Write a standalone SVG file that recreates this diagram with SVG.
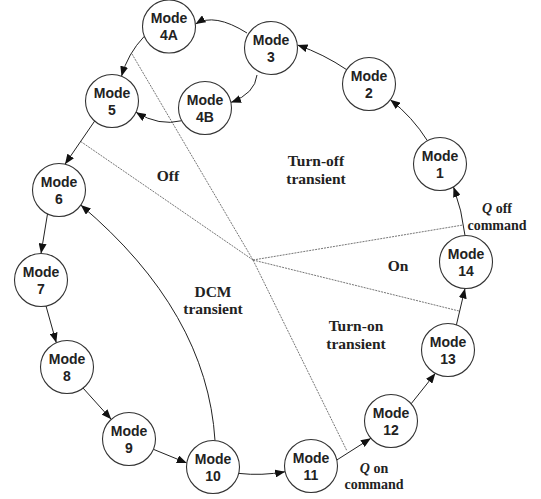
<svg xmlns="http://www.w3.org/2000/svg" width="541" height="499" viewBox="0 0 541 499">
<defs>
<style>
.node circle{fill:#fff;stroke:#333;stroke-width:1.1}
.node text{font-family:"Liberation Sans",Arial,sans-serif;font-weight:bold;font-size:14px;fill:#222;text-anchor:middle}
.edge{fill:none;stroke:#222;stroke-width:1;marker-end:url(#arr)}
.div{fill:none;stroke:#666;stroke-width:0.9;stroke-dasharray:2 1}
.lbl{font-family:"Liberation Serif","Times New Roman",serif;font-weight:bold;font-size:15.5px;fill:#222;text-anchor:middle}
.cmd{font-family:"Liberation Serif","Times New Roman",serif;font-weight:bold;font-size:14px;fill:#222;text-anchor:middle}
</style>
<marker id="arr" viewBox="0 0 10 8" refX="10" refY="4" markerWidth="10" markerHeight="8" orient="auto" markerUnits="userSpaceOnUse">
<path d="M0,0 L10,4 L0,8 z" fill="#111"/>
</marker>
</defs>
<rect width="541" height="499" fill="#fff"/>
<g id="dividers">
<line class="div" x1="253" y1="260" x2="132" y2="54"/>
<line class="div" x1="253" y1="260" x2="347" y2="451"/>
<line class="div" x1="253" y1="260" x2="80" y2="141"/>
<line class="div" x1="253" y1="260" x2="463" y2="225"/>
<line class="div" x1="253" y1="260" x2="459" y2="311"/>
</g>
<g id="connectors">
<path class="edge" d="M465,235.5 A213,213 0 0 0 453.5,187"/>
<path class="edge" d="M427.4,140.7 A160,160 0 0 0 390.3,99.7"/>
<path class="edge" d="M346.7,69.7 A213,213 0 0 0 297.5,45"/>
<path class="edge" d="M247,33 Q214.5,12.5 195.5,24"/>
<path class="edge" d="M257,75 Q255,93.5 231,102.4"/>
<path class="edge" d="M144.2,36.4 Q127.8,53.6 121.5,76.3"/>
<path class="edge" d="M181.8,120.7 Q159,126.5 136,112.2"/>
<path class="edge" d="M94.7,121 L65,164.2"/>
<path class="edge" d="M47.5,213.9 L41,253.5"/>
<path class="edge" d="M46,306 L56.3,342.7"/>
<path class="edge" d="M83,388 L111.2,419.3"/>
<path class="edge" d="M153.4,449.3 L186.8,463"/>
<path class="edge" d="M238.7,473.4 Q262,476 285.1,471.7"/>
<path class="edge" d="M336.8,460 L370.9,438.3"/>
<path class="edge" d="M411.1,403.8 L435.4,373.3"/>
<path class="edge" d="M456.4,324.9 L465,288.5"/>
<path class="edge" d="M215,440.5 Q207,312 80.8,205.1"/>
</g>
<g id="node-1" class="node"><circle cx="440" cy="164" r="26.5"/><text x="440" y="160.5">Mode</text><text x="440" y="177.5">1</text></g>
<g id="node-2" class="node"><circle cx="369" cy="84" r="26.5"/><text x="369" y="80.5">Mode</text><text x="369" y="97.5">2</text></g>
<g id="node-3" class="node"><circle cx="271" cy="48" r="26.5"/><text x="271" y="44.5">Mode</text><text x="271" y="61.5">3</text></g>
<g id="node-4A" class="node"><circle cx="169" cy="26.5" r="26.5"/><text x="169" y="23">Mode</text><text x="169" y="40">4A</text></g>
<g id="node-4B" class="node"><circle cx="205" cy="108" r="26.5"/><text x="205" y="104.5">Mode</text><text x="205" y="121.5">4B</text></g>
<g id="node-5" class="node"><circle cx="112" cy="101" r="26.5"/><text x="112" y="97.5">Mode</text><text x="112" y="114.5">5</text></g>
<g id="node-6" class="node"><circle cx="59" cy="190" r="26.5"/><text x="59" y="186.5">Mode</text><text x="59" y="203.5">6</text></g>
<g id="node-7" class="node"><circle cx="41" cy="280" r="26.5"/><text x="41" y="276.5">Mode</text><text x="41" y="293.5">7</text></g>
<g id="node-8" class="node"><circle cx="67" cy="367" r="26.5"/><text x="67" y="363.5">Mode</text><text x="67" y="380.5">8</text></g>
<g id="node-9" class="node"><circle cx="129" cy="439" r="26.5"/><text x="129" y="435.5">Mode</text><text x="129" y="452.5">9</text></g>
<g id="node-10" class="node"><circle cx="213" cy="467" r="26.5"/><text x="213" y="463.5">Mode</text><text x="213" y="480.5">10</text></g>
<g id="node-11" class="node"><circle cx="311" cy="466" r="26.5"/><text x="311" y="462.5">Mode</text><text x="311" y="479.5">11</text></g>
<g id="node-12" class="node"><circle cx="391" cy="421" r="26.5"/><text x="391" y="417.5">Mode</text><text x="391" y="434.5">12</text></g>
<g id="node-13" class="node"><circle cx="448" cy="350" r="26.5"/><text x="448" y="346.5">Mode</text><text x="448" y="363.5">13</text></g>
<g id="node-14" class="node"><circle cx="466" cy="262" r="26.5"/><text x="466" y="258.5">Mode</text><text x="466" y="275.5">14</text></g>
<g id="labels">
<text class="lbl" x="168" y="181">Off</text>
<text class="lbl" x="316" y="165.5">Turn-off</text>
<text class="lbl" x="316" y="183.5">transient</text>
<text class="lbl" x="213" y="297">DCM</text>
<text class="lbl" x="213" y="314">transient</text>
<text class="lbl" x="398" y="271">On</text>
<text class="lbl" x="356" y="331">Turn-on</text>
<text class="lbl" x="356" y="349">transient</text>
<text class="cmd" x="497" y="213"><tspan font-style="italic">Q</tspan> off</text>
<text class="cmd" x="497" y="230">command</text>
<text class="cmd" x="374" y="473"><tspan font-style="italic">Q</tspan> on</text>
<text class="cmd" x="374" y="489">command</text>
</g>
</svg>
